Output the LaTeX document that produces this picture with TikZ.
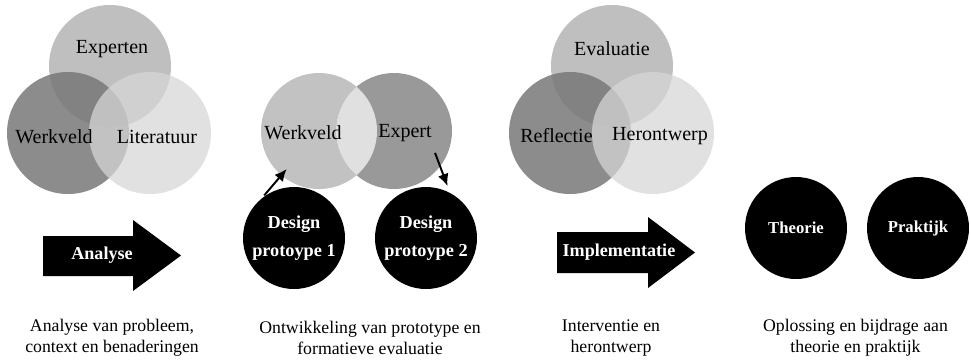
\documentclass[tikz,border=0pt]{standalone}
\usepackage{fontspec}
\setmainfont{Liberation Serif}
\usetikzlibrary{arrows.meta}

\begin{document}
\begin{tikzpicture}[line width = 1.1pt,
                    venn/.style = {circle, minimum size = 2.44cm, inner sep = 0pt},
                    venntwo/.style = {circle, minimum size = 2.32cm, inner sep = 0pt},
                    blob/.style = {circle, fill = black, minimum size = 2.04cm, inner sep = 0pt, text = white,
                                   align = center, font = \fontsize{10.4}{15.9}\selectfont\bfseries},
                    vlabel/.style = {font = \fontsize{11.4}{13}\selectfont},
                    phase/.style = {align = center, font = \fontsize{10.1}{12.2}\selectfont},
                    block/.style = {text = white, font = \fontsize{10.3}{12}\selectfont\bfseries},
                    pointer/.style = {-{Latex[length = 2.4mm, width = 2.2mm]}}]
      \useasboundingbox (0, 0) rectangle (19.42, -7.26);

      % analyse
      \node [venn, fill = black!25] (exp) at (2.20, -1.32){};
      \node [venn, fill = black!53, fill opacity = 0.85] (wv) at (1.36, -2.66){};
      \node [venn, fill = black!16, fill opacity = 0.74] (lit) at (3.00, -2.66){};
      \node [vlabel] (lexp) at (2.24, -0.98){Experten};
      \node [vlabel] (lwv) at (1.08, -2.74){Werkveld};
      \node [vlabel] (llit) at (3.14, -2.74){Literatuur};

      \fill (0.86, -4.72) -- (2.66, -4.72) -- (2.66, -4.40) -- (3.62, -5.11)
            -- (2.66, -5.82) -- (2.66, -5.52) -- (0.86, -5.52) -- cycle;
      \node [block] (ana) at (2.04, -5.10){Analyse};

      % ontwikkeling
      \node [venntwo, fill = black!24] (wv2) at (6.38, -2.62){};
      \node [venntwo, fill = black!40] (ex2) at (7.88, -2.62){};
      \begin{scope}
        \clip (wv2.center) circle (1.16);
        \fill [black!12] (ex2.center) circle (1.16);
      \end{scope}
      \node [vlabel] (lwv2) at (6.06, -2.66){Werkveld};
      \node [vlabel] (lex2) at (8.10, -2.66){Expert};

      \node [blob] (d1) at (5.88, -4.76){Design\\protoype 1};
      \node [blob] (d2) at (8.52, -4.76){Design\\protoype 2};

      \draw [pointer, shorten >= 1cm] (d1.125) -- (wv2.center);
      \draw [pointer, shorten >= 3.5pt] ([shift = {(-28:0.93)}]ex2.center) -- (d2.63);

      % implementatie
      \node [venn, fill = black!25] (eva) at (12.24, -1.32){};
      \node [venn, fill = black!53, fill opacity = 0.85] (ref) at (11.40, -2.66){};
      \node [venn, fill = black!16, fill opacity = 0.74] (her) at (13.06, -2.66){};
      \node [vlabel] (leva) at (12.24, -0.98){Evaluatie};
      \node [vlabel] (lref) at (11.13, -2.72){Reflectie};
      \node [vlabel] (lher) at (13.20, -2.72){Herontwerp};

      \fill (11.14, -4.64) -- (12.96, -4.64) -- (12.96, -4.34) -- (13.90, -5.05)
            -- (12.96, -5.76) -- (12.96, -5.46) -- (11.14, -5.46) -- cycle;
      \node [block] (imp) at (12.38, -5.05){Implementatie};

      % resultaat
      \node [blob, font = \fontsize{9.5}{12}\selectfont\bfseries] (th) at (15.92, -4.56){Theorie};
      \node [blob, font = \fontsize{9.5}{12}\selectfont\bfseries] (pr) at (18.36, -4.56){Praktijk};

      \node [phase] (c1) at (2.24, -6.76){Analyse van probleem,\\context en benaderingen};
      \node [phase] (c2) at (7.40, -6.76){Ontwikkeling van prototype en\\formatieve evaluatie};
      \node [phase] (c3) at (12.22, -6.76){Interventie en\\herontwerp};
      \node [phase] (c4) at (17.11, -6.76){Oplossing en bijdrage aan\\theorie en praktijk};
      \end{tikzpicture}
\end{document}
